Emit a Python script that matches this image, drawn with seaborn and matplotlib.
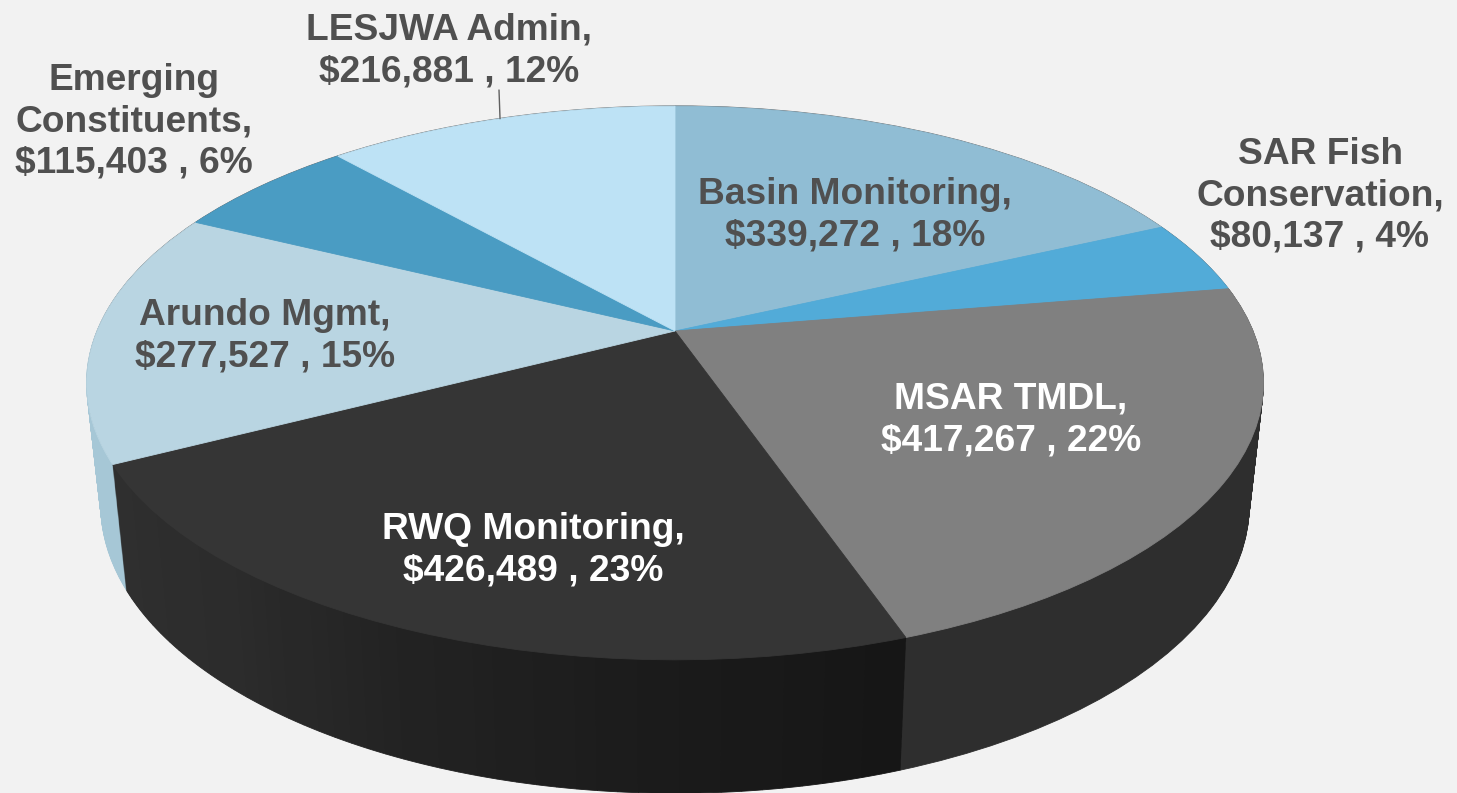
import numpy as np
import matplotlib
matplotlib.use("Agg")
import matplotlib.pyplot as plt
from matplotlib.transforms import Transform
import seaborn as sns

names = ["Basin Monitoring", "SAR Fish\nConservation", "MSAR TMDL", "RWQ Monitoring",
         "Arundo Mgmt", "Emerging\nConstituents", "LESJWA Admin"]
values = [339272, 80137, 417267, 426489, 277527, 115403, 216881]
percents = [18, 4, 22, 23, 15, 6, 12]
top_colors = ["#90bdd4", "#52abd8", "#808080", "#353535", "#b9d5e2", "#4a9cc3", "#bde2f5"]
wall_colors = ["#6f9bb0", "#3d8ab5", "#2e2e2e", "#1c1c1c", "#a6c7d6", "#3a7d9f", "#9cc3d6"]
text_colors = ["#505050", "#505050", "white", "white", "#505050", "#505050", "#505050"]
label_centres = [(855, 215), (1320, 196), (1011, 420), (533, 550), (265, 336), (134, 122), (449, 51)]

sns.set_theme(style="white")
plt.rcParams["font.family"] = ["Liberation Sans", "DejaVu Sans"]
BG = "#f2f2f2"


class Perspective(Transform):
    """Tilted-disc view: maps the unit pie onto the picture plane."""
    input_dims = output_dims = 2
    is_separable = False
    has_inverse = False

    def __init__(self, a, b, cy, k=0.1877, cx=675):
        super().__init__()
        self.a, self.b, self.cy, self.k, self.cx = a, b, cy, k, cx

    def transform_non_affine(self, xy):
        xy = np.asarray(xy, float)
        d = 1 + self.k * xy[:, 1]
        return np.column_stack((self.cx + self.a * xy[:, 0] / d,
                                self.cy - self.b * xy[:, 1] / d))


fig = plt.figure(figsize=(14.57, 7.93), dpi=100, facecolor=BG)
ax = fig.add_axes([0, 0, 1, 1], facecolor=BG)


def draw_pie(vals, cols, persp, lw=0.6):
    wedges, *_ = ax.pie(vals, colors=cols, startangle=90, counterclock=False,
                        labeldistance=None)
    for w in wedges:
        w.set_transform(persp + ax.transData)
        w.set_edgecolor(w.get_facecolor())
        w.set_linewidth(lw)


# Side wall: split the front slice so its shade can run across the wall
N_SPLIT = 48
rwq = names.index("RWQ Monitoring")
rwq_shades = sns.blend_palette(["#161616", "#1b1b1b", "#222222", "#2c2c2c", "#2f2f2f"], N_SPLIT)
wall_vals, wall_cols = [], []
for i, v in enumerate(values):
    if i == rwq:
        wall_vals += [v / N_SPLIT] * N_SPLIT
        wall_cols += list(rwq_shades)
    else:
        wall_vals.append(v)
        wall_cols.append(wall_colors[i])

LAYERS = 120
for t in np.linspace(1, 0, LAYERS):
    draw_pie(wall_vals, wall_cols,
             Perspective(a=578 - 14 * t, b=267 + 11 * t, cy=331 + 120 * t))

# thin dark line along the far rim
draw_pie(values, ["#707070"] * len(values), Perspective(a=578, b=267, cy=330.2), lw=0)
# top face
top = Perspective(a=578, b=267, cy=331)
draw_pie(values, top_colors, top)

ax.set_aspect("auto")
ax.set_xlim(0, 1457)
ax.set_ylim(793, 0)
ax.axis("off")

# Leader for the LESJWA label
total = sum(values)
mid = 2 * np.pi * (sum(values[:-1]) + values[-1] / 2) / total
ax.annotate("", xy=(np.sin(mid), np.cos(mid)), xycoords=top + ax.transData,
            xytext=(499, 90), textcoords="data",
            arrowprops=dict(arrowstyle="-", color="#606060", lw=1, shrinkA=0, shrinkB=0))

for n, v, p, (x, y), c in zip(names, values, percents, label_centres, text_colors):
    ax.text(x, y, f"{n},\n${v:,} , {p}%", ha="center", va="center", color=c,
            fontsize=26.7, fontweight="bold", linespacing=1.24)

fig.savefig("out.png", dpi=100, facecolor=BG)
